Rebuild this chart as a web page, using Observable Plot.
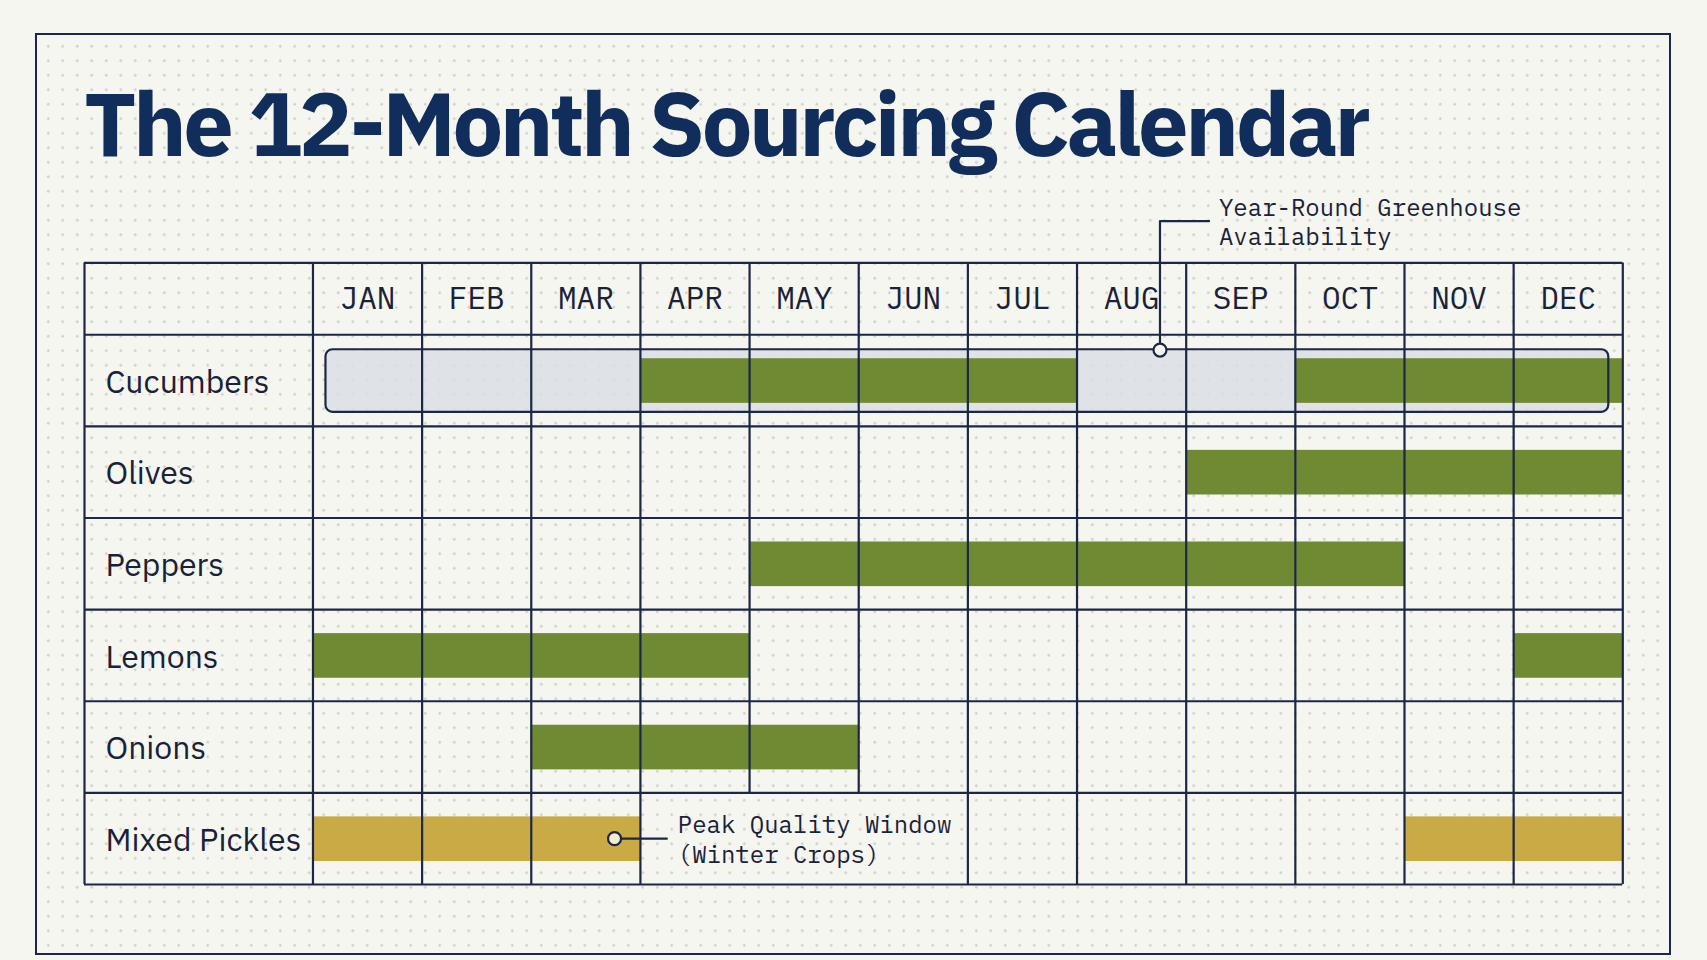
<!DOCTYPE html>
<html>
<head>
<meta charset="utf-8">
<script src="https://cdn.jsdelivr.net/npm/d3@7"></script>
<script src="https://cdn.jsdelivr.net/npm/@observablehq/plot@0.6"></script>
<style>
  html, body { margin: 0; padding: 0; }
  body { width: 1707px; height: 960px; overflow: hidden; position: relative; background: #f6f6f1; }
  #frame {
    position: absolute; left: 35px; top: 33px; width: 1636px; height: 922px;
    box-sizing: border-box; border: 2.5px solid #1b2744;
    background-image: radial-gradient(circle, #cfd0cb 1.1px, transparent 1.5px);
    background-size: 14.5px 14.5px; background-position: 4px 4px;
  }
  #title {
    position: absolute; left: 84px; top: 78px; margin: 0;
    font-family: "IBM Plex Sans", Inter, Roboto, sans-serif; font-weight: 700; font-size: 90px;
    line-height: 1; color: #112d5c; white-space: nowrap;
  }
  #chart { position: absolute; left: 0; top: 0; }
</style>
</head>
<body>
<div id="frame"></div>
<h1 id="title">The 12-Month Sourcing Calendar</h1>
<div id="chart"></div>
<script>
// ---- data ----
const months = ["JAN","FEB","MAR","APR","MAY","JUN","JUL","AUG","SEP","OCT","NOV","DEC"];
const products = ["Cucumbers","Olives","Peppers","Lemons","Onions","Mixed Pickles"];
const cucumbersMonths = [4,5,6,7,10,11,12];
const olivesMonths = [9,10,11,12];
const peppersMonths = [5,6,7,8,9,10];
const lemonsMonths = [1,2,3,4,12];
const onionsMonths = [3,4,5];
const mixedPicklesMonths = [1,2,3,11,12];
const peakProducts = ["Mixed Pickles"];
const greenhouseProduct = "Cucumbers";
const greenhouseSpan = [1, 12];
const greenhouseNote = "Year-Round Greenhouse\nAvailability";
const peakNote = "Peak Quality Window\n(Winter Crops)";
const noteCellMonths = [4, 6]; // cells APR–JUN of the last row are merged for the note

// ---- layout constants ----
const LABEL = 2.093;   // width of label column in month units
const HEADER = 0.784;  // header height in row units
const NAVY = "#1b2744";
const GREEN = "#6f8a32";
const GOLD = "#c9aa45";
const MONO = "'IBM Plex Mono', 'DejaVu Sans Mono', monospace";
const SANS = "'IBM Plex Sans', Inter, 'Noto Sans', sans-serif";

const monthLists = [cucumbersMonths, olivesMonths, peppersMonths, lemonsMonths, onionsMonths, mixedPicklesMonths];
const cells = products.flatMap((p, i) => monthLists[i].map(m => ({
  product: p, row: i, month: m, kind: peakProducts.includes(p) ? "peak" : "season"
})));
const ghRow = products.indexOf(greenhouseProduct);
const greenhouse = [{x1: greenhouseSpan[0] - 1, x2: greenhouseSpan[1], y1: ghRow, y2: ghRow + 1}];
const peakRow = products.indexOf("Mixed Pickles");

const vLines = [-LABEL, ...d3.range(0, 13)].map(x => ({
  x, y2: (x > noteCellMonths[0] - 1 && x < noteCellMonths[1]) ? peakRow : products.length
}));
const hLines = [-HEADER, ...d3.range(0, products.length + 1)];

const ghDot = {x: 7.76, y: ghRow + 0.167};
const ghElbow = [{x: 7.76, y: ghRow + 0.167}, {x: 7.76, y: -1.24}, {x: 8.21, y: -1.24}];
const pkDot = {x: 2.763, y: peakRow + 0.5};
const pkLine = [{x: 2.763, y: peakRow + 0.5}, {x: 3.242, y: peakRow + 0.5}];

const chart = Plot.plot({
  width: 1707, height: 960,
  marginTop: 0, marginBottom: 0, marginLeft: 0, marginRight: 0,
  x: {domain: [-LABEL, 12], range: [84, 1622.3], axis: null},
  y: {domain: [-HEADER, products.length], range: [262.4, 884], axis: null},
  style: {background: "transparent", overflow: "visible"},
  marks: [
    // greenhouse availability fill
    Plot.rect(greenhouse, {x1: "x1", x2: "x2", y1: "y1", y2: "y2",
      insetLeft: 13, insetRight: 14, insetTop: 15, insetBottom: 14,
      fill: "#dadee4", fillOpacity: 0.85, rx: 7}),
    // season bars
    Plot.rect(cells, {x1: d => d.month - 1, x2: d => d.month, y1: d => d.row, y2: d => d.row + 1,
      insetTop: 24, insetBottom: 23,
      fill: d => d.kind === "peak" ? GOLD : GREEN}),
    // grid
    Plot.ruleX(vLines, {x: "x", y1: -HEADER, y2: "y2", stroke: NAVY, strokeWidth: 2.2}),
    Plot.ruleY(hLines, {y: d => d, x1: -LABEL, x2: 12, stroke: NAVY, strokeWidth: 2.2}),
    // greenhouse outline
    Plot.rect(greenhouse, {x1: "x1", x2: "x2", y1: "y1", y2: "y2",
      insetLeft: 13, insetRight: 14, insetTop: 15, insetBottom: 14,
      fill: "none", stroke: NAVY, strokeWidth: 2.2, rx: 7}),
    // header months
    Plot.text(months, {x: (d, i) => i + 0.5, y: -HEADER / 2, text: d => d,
      fontFamily: MONO, fontSize: 31, fill: "#1a2238"}),
    // product labels
    Plot.text(products, {x: -LABEL, y: (d, i) => i + 0.5, text: d => d, dx: 21, dy: 2,
      textAnchor: "start", fontFamily: SANS, fontSize: 32, fill: "#1a2238"}),
    // greenhouse annotation
    Plot.line(ghElbow, {x: "x", y: "y", stroke: NAVY, strokeWidth: 2.2}),
    Plot.dot([ghDot], {x: "x", y: "y", r: 6.5, fill: "#f6f6f1", stroke: NAVY, strokeWidth: 2.2}),
    Plot.text([greenhouseNote], {x: 8.30, y: -1.24, text: d => d, textAnchor: "start",
      lineHeight: 1.22, fontFamily: MONO, fontSize: 24, fill: "#1a2238"}),
    // peak annotation
    Plot.line(pkLine, {x: "x", y: "y", stroke: NAVY, strokeWidth: 2.2}),
    Plot.dot([pkDot], {x: "x", y: "y", r: 6.5, fill: "#f1ecd2", stroke: NAVY, strokeWidth: 2.2}),
    Plot.text([peakNote], {x: 3.342, y: peakRow + 0.5, text: d => d, textAnchor: "start",
      lineHeight: 1.22, fontFamily: MONO, fontSize: 24, fill: "#1a2238"})
  ]
});
document.getElementById("chart").appendChild(chart);

// fit title width to the reference
const title = document.getElementById("title");
const target = 1287;
const w = title.getBoundingClientRect().width;
const n = title.textContent.length - 1;
title.style.letterSpacing = ((target - w) / n).toFixed(2) + "px";
</script>
</body>
</html>
